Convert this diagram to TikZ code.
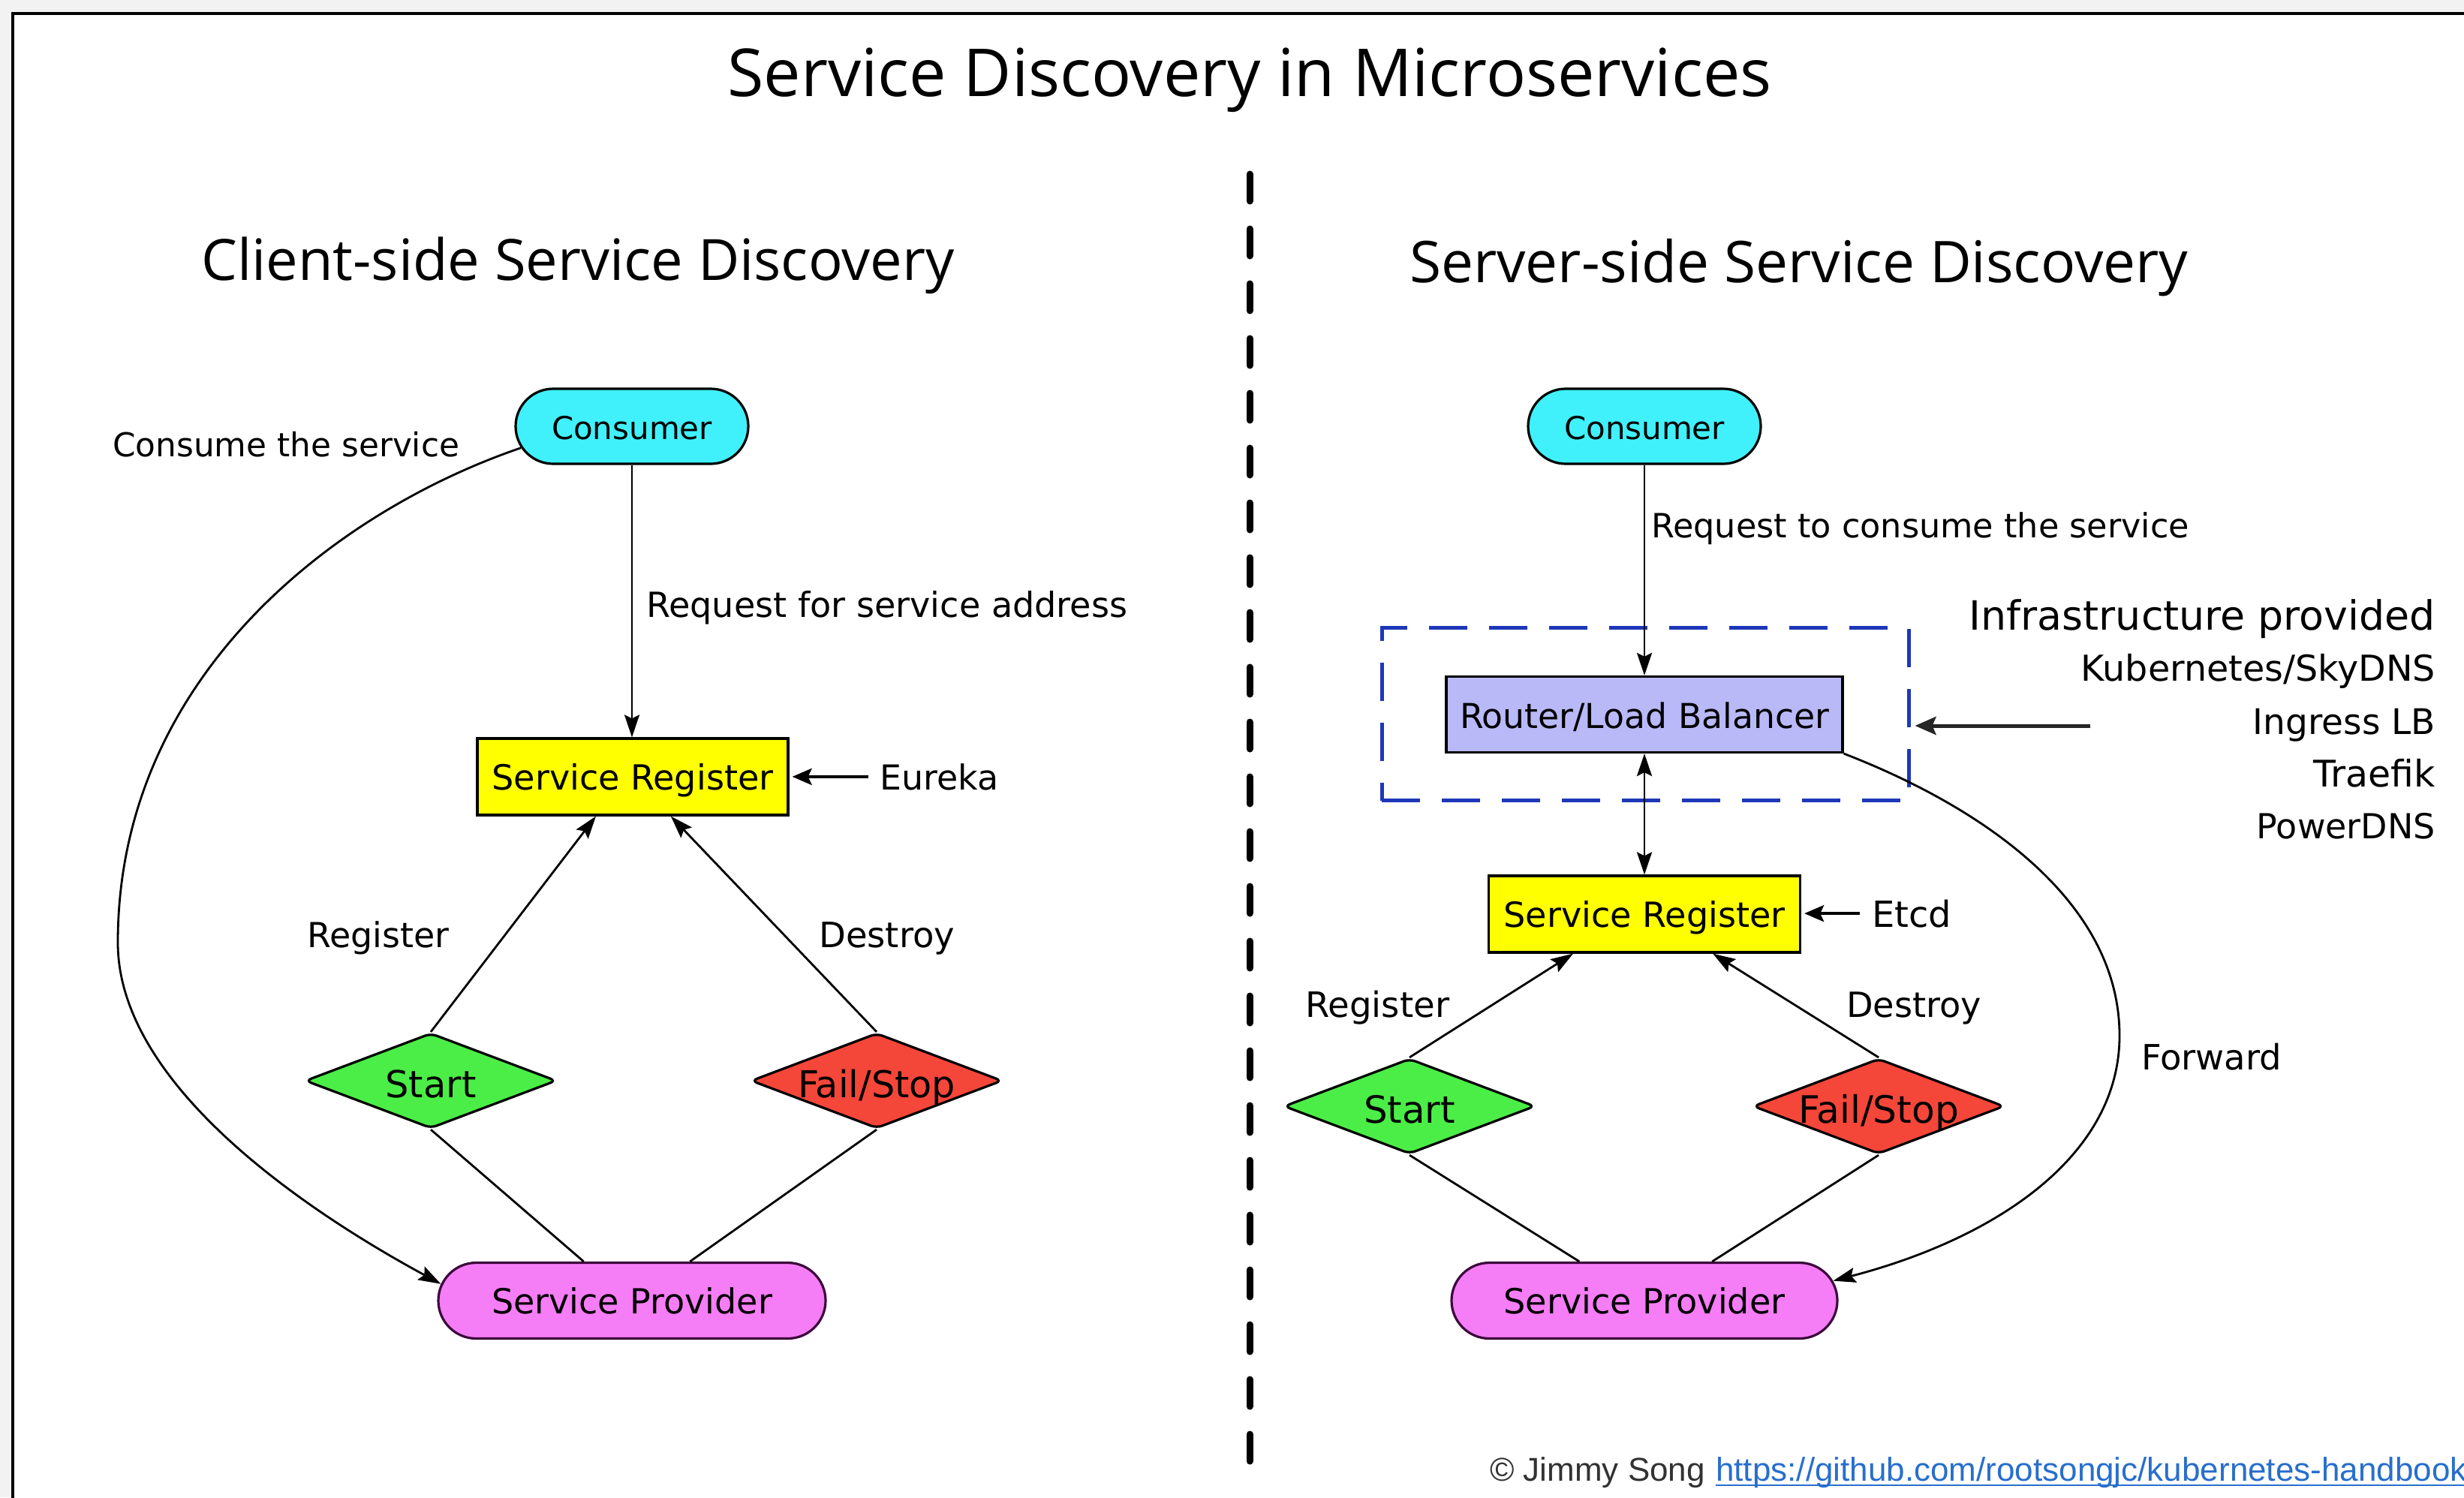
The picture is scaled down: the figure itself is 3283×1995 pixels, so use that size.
\documentclass[tikz,border=0pt]{standalone}
\usepackage{fontspec}
\usetikzlibrary{arrows.meta,shapes.geometric,shapes.misc}
\newfontfamily\cfont{DejaVu Sans}
\newfontfamily\hfont{Open Sans}
\newfontfamily\ffont{Liberation Sans}
\newcommand\fitw[2]{\resizebox{#1pt}{!}{#2}}
\definecolor{bggray}{RGB}{242,242,242}
\definecolor{cyanfill}{RGB}{64,240,250}
\definecolor{yelfill}{RGB}{255,255,0}
\definecolor{grnfill}{RGB}{75,238,70}
\definecolor{redfill}{RGB}{245,70,58}
\definecolor{pinkfill}{RGB}{245,125,245}
\definecolor{lavfill}{RGB}{185,185,248}
\definecolor{infrablue}{RGB}{30,55,185}
\definecolor{linkblue}{RGB}{40,110,205}
\definecolor{footgray}{RGB}{50,50,50}
\definecolor{provedge}{RGB}{60,10,60}
\begin{document}
\begin{tikzpicture}[x=1pt,y=-1pt,
  box/.style={draw=black, line width=3.2pt, inner sep=0pt, font=\cfont\fontsize{46}{52}\selectfont, text height=35pt, text depth=0pt},
  stad/.style={box, rounded rectangle, minimum height=100pt},
  rectbox/.style={box, rectangle, minimum height=102pt},
  dia/.style={box, diamond, aspect=2.64, minimum width=335pt, minimum height=127pt, rounded corners=8pt, text height=44pt},
  conn/.style={line width=2.8pt, draw=black},
  arr/.style={conn, -{Stealth[length=30pt,width=20pt,inset=5pt]}},
  arrtwo/.style={conn, {Stealth[length=30pt,width=20pt,inset=5pt]}-{Stealth[length=30pt,width=20pt,inset=5pt]}},
  arrthick/.style={line width=4pt, draw=black, -{Stealth[length=26pt,width=22pt,inset=5pt]}},
  lbl/.style={inner sep=0pt, font=\cfont\fontsize{46}{52}\selectfont, anchor=base west},
  lble/.style={lbl, anchor=base east},
  head/.style={inner sep=0pt, font=\hfont\fontsize{80}{90}\selectfont, anchor=base west}
]
\useasboundingbox (0,0) rectangle (3283,1995);
\clip (0,0) rectangle (3283,1995);
% frame
\fill[bggray] (0,0) rectangle (3283,1995);
\fill[white] (17,18) rectangle (3290,2000);
\draw[line width=4.5pt] (17,2000) -- (17,18) -- (3290,18);

% titles
\node[head, anchor=base] (title) at (1665,128) {\fitw{1391}{Service Discovery in Microservices}};
\node[head] (hl) at (268,373) {\fitw{1003}{Client-side Service Discovery}};
\node[head] (hr) at (1878,376) {\fitw{1037}{Server-side Service Discovery}};

% divider
\draw[line width=9pt, line cap=round, dash pattern=on 36pt off 37pt] (1665,232) -- (1665,1955);

% ---------- left ----------
\node[stad, fill=cyanfill, minimum width=310pt] (cl) at (842,568) {\fitw{214}{Consumer}};
\node[rectbox, fill=yelfill, minimum width=414pt] (rl) at (843,1035) {\fitw{375}{Service Register}};
\node[dia, fill=grnfill] (sl) at (574,1440) {\fitw{121}{Start}};
\node[dia, fill=redfill] (fl) at (1168,1440) {\fitw{210}{Fail/Stop}};
\node[stad, fill=pinkfill, draw=provedge, minimum width=516pt, minimum height=101pt] (pl) at (842,1733) {\fitw{374}{Service Provider}};

\node[lbl] (lcons) at (150,608) {\fitw{462}{Consume the service}};
\node[lbl] (lreq) at (861,822) {\fitw{641}{Request for service address}};
\node[lbl] (eu) at (1172,1052) {\fitw{158}{Eureka}};
\node[lbl] (lreg) at (409,1262) {\fitw{189}{Register}};
\node[lbl] (ldes) at (1091,1262) {\fitw{181}{Destroy}};

\draw[arr] (cl.south) -- (cl.south |- rl.north);
\draw[arr] (sl.north) -- (rl.227);
\draw[arr] (fl.north) -- (rl.314);
\draw[conn] (sl.south) -- (pl.141);
\draw[conn] (fl.south) -- (pl.34);
\draw[arrthick, shorten <=15pt, shorten >=4pt] (eu.west) -- (eu.west -| rl.east);
\draw[arr] (cl.191) .. controls (450,680) and (157,900) .. (157,1256) .. controls (157,1450) and (420,1620) .. (pl.175);

% ---------- right ----------
\node[stad, fill=cyanfill, minimum width=310pt] (cr) at (2191,568) {\fitw{214}{Consumer}};
\node[draw=infrablue, line width=5pt, dash pattern=on 51pt off 29pt, minimum width=702pt, minimum height=230pt, inner sep=0pt] (infra) at (2192,951.5) {};
\node[rectbox, fill=lavfill, minimum width=528pt, minimum height=101pt, text height=36pt] (rt) at (2191,952) {\fitw{492}{Router/Load Balancer}};
\node[rectbox, fill=yelfill, minimum width=415pt] (rr) at (2191,1218) {\fitw{375}{Service Register}};
\node[dia, fill=grnfill] (sr) at (1878,1474) {\fitw{122}{Start}};
\node[dia, fill=redfill] (fr) at (2503,1474) {\fitw{214}{Fail/Stop}};
\node[stad, fill=pinkfill, draw=provedge, minimum width=514pt, minimum height=101pt] (pr) at (2191,1733) {\fitw{375}{Service Provider}};

\node[lbl] (rreq) at (2200,716) {\fitw{717}{Request to consume the service}};
\node[lble] (i1) at (3245,839) {\fitw{621}{Infrastructure provided}};
\node[lble] (i2) at (3245,907) {\fitw{472}{Kubernetes/SkyDNS}};
\node[lble] (i3) at (3245,978) {\fitw{243}{Ingress LB}};
\node[lble] (i4) at (3245,1048) {\fitw{162}{Traefik}};
\node[lble] (i5) at (3245,1117) {\fitw{238}{PowerDNS}};
\node[lbl] (et) at (2494,1235) {\fitw{106}{Etcd}};
\node[lbl] (rreg) at (1739,1355) {\fitw{192}{Register}};
\node[lbl] (rdes) at (2460,1355) {\fitw{180}{Destroy}};
\node[lbl] (fwd) at (2853,1425) {\fitw{187}{Forward}};

\coordinate (itail) at (2785,967);
\draw[arr] (cr.south) -- (cr.south |- rt.north);
\draw[arrtwo] (rt.south) -- (rt.south |- rr.north);
\draw[arr] (sr.north) -- (rr.209);
\draw[arr] (fr.north) -- (rr.330);
\draw[conn] (sr.south) -- (pr.149);
\draw[conn] (fr.south) -- (pr.30);
\draw[arrthick, shorten >=4pt] (et.west) ++(-16,0) -- (et.west -| rr.east);
\draw[line width=5pt, draw=black!85, -{Stealth[length=28pt,width=24pt,inset=5pt]}, shorten >=6pt] (itail) -- (itail -| infra.east);
\draw[arr] (rt.south east) .. controls (2640,1075) and (2824,1200) .. (2824,1380) .. controls (2824,1540) and (2660,1650) .. (pr.6);

% footer
\node[inner sep=0pt, anchor=base west, font=\ffont\fontsize{44}{50}\selectfont, text=footgray] (copy) at (1985,1973) {© Jimmy Song};
\node[inner sep=0pt, anchor=base west, font=\ffont\fontsize{44}{50}\selectfont, text=linkblue] (lnk) at (2286,1973) {https://github.com/rootsongjc/kubernetes-handbook};
\draw[linkblue, line width=2.5pt] ([yshift=-6pt]lnk.base west) -- ([yshift=-6pt]lnk.base east);
\end{tikzpicture}
\end{document}
